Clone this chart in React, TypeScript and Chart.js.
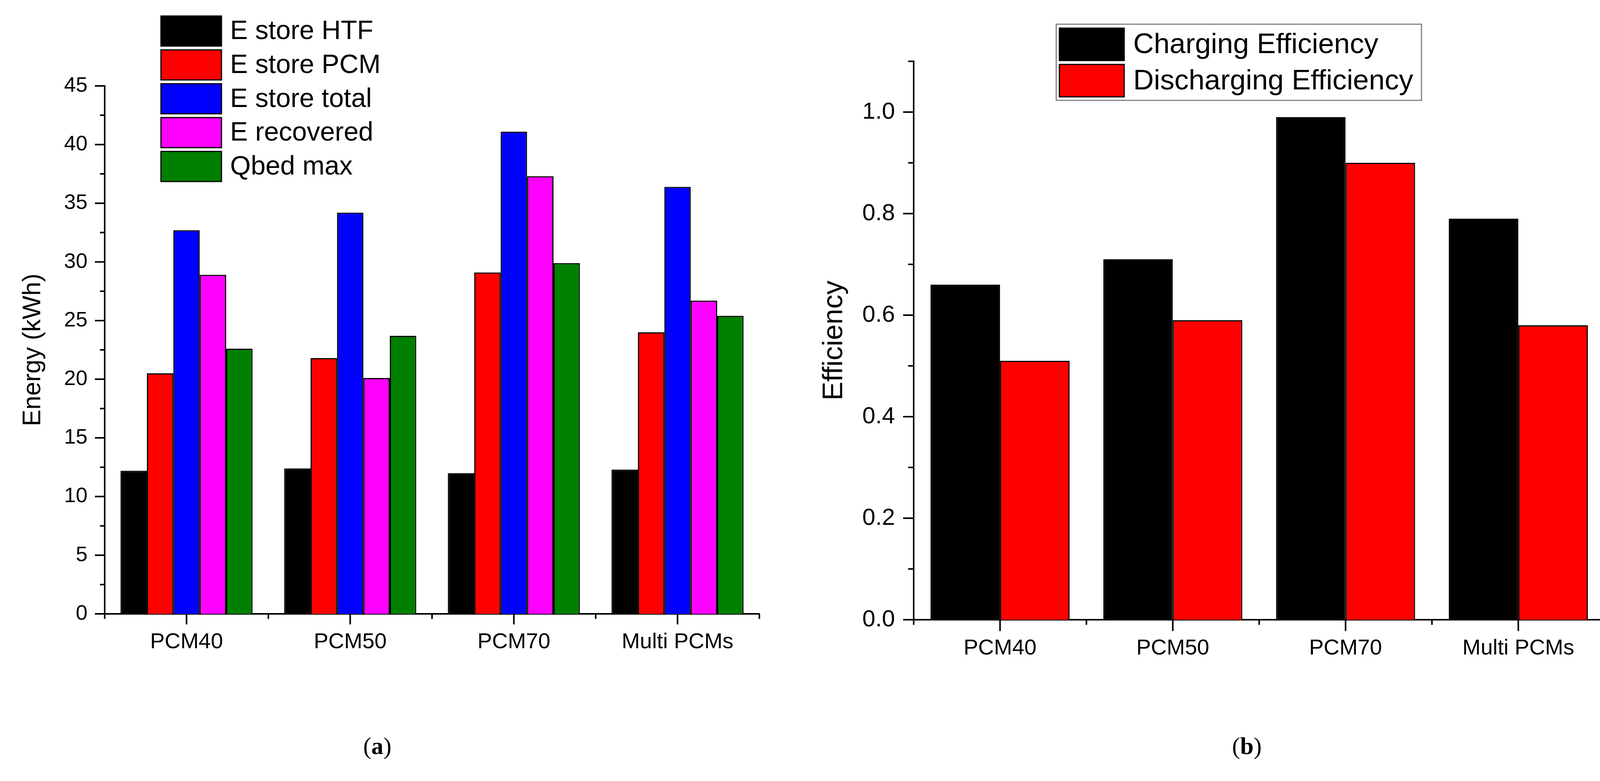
import React, { useEffect, useRef } from "react";
import Chart from "chart.js/auto";

// shared categories
const categories = ["PCM40", "PCM50", "PCM70", "Multi PCMs"];

// (a) energy chart
const energySeries = ["E store HTF", "E store PCM", "E store total", "E recovered", "Qbed max"];
const eStoreHTF = [12.2, 12.4, 12.0, 12.3];
const eStorePCM = [20.5, 21.8, 29.1, 24.0];
const eStoreTotal = [32.7, 34.2, 41.1, 36.4];
const eRecovered = [28.9, 20.1, 37.3, 26.7];
const qBedMax = [22.6, 23.7, 29.9, 25.4];
const energyColors = ["#000000", "#ff0000", "#0000ff", "#ff00ff", "#008000"];
const energyMax = 45;
const energyLabelStep = 5;
const energyMinorStep = 2.5;

// (b) efficiency chart
const effSeries = ["Charging Efficiency", "Discharging Efficiency"];
const chargingEff = [0.66, 0.71, 0.99, 0.79];
const dischargingEff = [0.51, 0.59, 0.9, 0.58];
const effColors = ["#000000", "#ff0000"];
const effMax = 1.1;
const effMinorStep = 0.1;

const FONT = "'Liberation Sans', Arial, Helvetica, sans-serif";

// draws the outward tick marks: long at labelled values / category centres, short in between
const tickMarks = {
  id: "tickMarks",
  afterDraw(chart: any, _args: any, o: any) {
    const { ctx, chartArea } = chart;
    const xs = chart.scales.x;
    const ys = chart.scales.y;
    ctx.save();
    ctx.strokeStyle = "#000";
    ctx.lineWidth = o.width;
    ctx.beginPath();
    ys.ticks.forEach((t: any, i: number) => {
      const py = ys.getPixelForTick(i);
      const r = t.value / o.yMajor;
      const len = Math.abs(r - Math.round(r)) < 1e-6 ? o.yMajorLen : o.yMinorLen;
      ctx.moveTo(chartArea.left - len, py);
      ctx.lineTo(chartArea.left, py);
    });
    const n = xs.ticks.length;
    for (let i = 0; i < n; i++) {
      const px = xs.getPixelForTick(i);
      ctx.moveTo(px, chartArea.bottom);
      ctx.lineTo(px, chartArea.bottom + o.xMajorLen);
    }
    for (let i = 0; i <= n; i++) {
      const px =
        i === 0
          ? chartArea.left
          : i === n
          ? chartArea.right
          : (xs.getPixelForTick(i - 1) + xs.getPixelForTick(i)) / 2;
      ctx.moveTo(px, chartArea.bottom);
      ctx.lineTo(px, chartArea.bottom + o.xMinorLen);
    }
    ctx.stroke();
    ctx.restore();
  },
};

// legend with big swatches at a fixed spot (the origin style legend)
const boxLegend = {
  id: "boxLegend",
  afterDraw(chart: any, _args: any, o: any) {
    const { ctx } = chart;
    ctx.save();
    if (o.frame) {
      ctx.strokeStyle = "#808080";
      ctx.lineWidth = 3;
      ctx.strokeRect(o.frame[0], o.frame[1], o.frame[2], o.frame[3]);
    }
    chart.data.datasets.forEach((ds: any, i: number) => {
      const top = o.y + i * o.pitch;
      ctx.fillStyle = ds.backgroundColor;
      ctx.fillRect(o.x, top, o.w, o.h);
      ctx.strokeStyle = "#000";
      ctx.lineWidth = 3;
      ctx.strokeRect(o.x, top, o.w, o.h);
      ctx.fillStyle = "#000";
      ctx.font = `${o.size}px ${FONT}`;
      ctx.textBaseline = "middle";
      ctx.textAlign = "left";
      ctx.fillText(ds.label, o.x + o.w + o.gap, top + o.h / 2 + 2);
    });
    ctx.restore();
  },
};

const EnergyChart: React.FC = () => {
  const ref = useRef<HTMLCanvasElement | null>(null);

  useEffect(() => {
    if (!ref.current) return;
    const values = [eStoreHTF, eStorePCM, eStoreTotal, eRecovered, qBedMax];
    const chart = new Chart(ref.current, {
      type: "bar",
      data: {
        labels: categories,
        datasets: energySeries.map((label, i) => ({
          label,
          data: values[i],
          backgroundColor: energyColors[i],
          borderColor: "#000",
          borderWidth: 3,
          categoryPercentage: 0.807,
          barPercentage: 1,
        })),
      },
      options: {
        animation: false,
        responsive: false,
        devicePixelRatio: 1,
        layout: { padding: { left: 0, top: 220, right: 56, bottom: 0 } },
        plugins: {
          legend: { display: false },
          tooltip: { enabled: false },
          tickMarks: { width: 4, yMajor: energyLabelStep, yMajorLen: 25, yMinorLen: 12, xMajorLen: 27, xMinorLen: 13 },
          boxLegend: { x: 412, y: 41, w: 155, h: 77, pitch: 86.7, gap: 22, size: 68 },
        } as any,
        scales: {
          x: {
            grid: { display: false, drawTicks: false },
            border: { display: true, color: "#000", width: 4 },
            ticks: { color: "#000", font: { size: 56, family: FONT }, padding: 39, maxRotation: 0, autoSkip: false },
            afterFit: (s: any) => {
              s.height = 228;
            },
          },
          y: {
            min: 0,
            max: energyMax,
            grid: { display: false, drawTicks: false },
            border: { display: true, color: "#000", width: 4 },
            ticks: {
              stepSize: energyMinorStep,
              autoSkip: false,
              color: "#000",
              font: { size: 54, family: FONT },
              padding: 44,
              callback: (v: any) => (Number(v) % energyLabelStep === 0 ? String(v) : ""),
            },
            title: {
              display: true,
              text: "Energy (kWh)",
              color: "#000",
              font: { size: 64, family: FONT },
              padding: { top: 47, bottom: 0 },
            },
            afterFit: (s: any) => {
              s.width = 268;
            },
          },
        },
      },
      plugins: [tickMarks, boxLegend],
    });
    return () => {
      chart.destroy();
    };
  }, []);

  return (
    <canvas
      ref={ref}
      width={2000}
      height={1800}
      style={{ position: "absolute", left: 0, top: 0, width: 2000, height: 1800 }}
    />
  );
};

const EfficiencyChart: React.FC = () => {
  const ref = useRef<HTMLCanvasElement | null>(null);

  useEffect(() => {
    if (!ref.current) return;
    const values = [chargingEff, dischargingEff];
    const chart = new Chart(ref.current, {
      type: "bar",
      data: {
        labels: categories,
        datasets: effSeries.map((label, i) => ({
          label,
          data: values[i],
          backgroundColor: effColors[i],
          borderColor: "#000",
          borderWidth: 3,
          categoryPercentage: 0.805,
          barPercentage: 1,
        })),
      },
      options: {
        animation: false,
        responsive: false,
        devicePixelRatio: 1,
        layout: { padding: { left: 0, top: 157, right: 52, bottom: 0 } },
        plugins: {
          legend: { display: false },
          tooltip: { enabled: false },
          tickMarks: { width: 4, yMajor: 0.2, yMajorLen: 27, yMinorLen: 14, xMajorLen: 29, xMinorLen: 13 },
          boxLegend: {
            x: 712,
            y: 72,
            w: 166,
            h: 83,
            pitch: 93,
            gap: 23,
            size: 73,
            frame: [704, 62, 935, 195],
          },
        } as any,
        scales: {
          x: {
            grid: { display: false, drawTicks: false },
            border: { display: true, color: "#000", width: 4 },
            ticks: { color: "#000", font: { size: 56, family: FONT }, padding: 40, maxRotation: 0, autoSkip: false },
            afterFit: (s: any) => {
              s.height = 213;
            },
          },
          y: {
            min: 0,
            max: effMax,
            grid: { display: false, drawTicks: false },
            border: { display: true, color: "#000", width: 4 },
            ticks: {
              stepSize: effMinorStep,
              autoSkip: false,
              color: "#000",
              font: { size: 60, family: FONT },
              padding: 48,
              callback: (v: any) => (Math.round(Number(v) * 10) % 2 === 0 ? Number(v).toFixed(1) : ""),
            },
            title: {
              display: true,
              text: "Efficiency",
              color: "#000",
              font: { size: 72, family: FONT },
              padding: { top: 93, bottom: 0 },
            },
            afterFit: (s: any) => {
              s.width = 339;
            },
          },
        },
      },
      plugins: [tickMarks, boxLegend],
    });
    return () => {
      chart.destroy();
    };
  }, []);

  return (
    <canvas
      ref={ref}
      width={2160}
      height={1800}
      style={{ position: "absolute", left: 2000, top: 0, width: 2160, height: 1800 }}
    />
  );
};

const captionStyle: React.CSSProperties = {
  position: "absolute",
  top: 1875,
  width: 200,
  marginLeft: -100,
  textAlign: "center",
  fontFamily: "'Liberation Serif', 'Times New Roman', serif",
  fontSize: 62,
  lineHeight: "70px",
  color: "#000",
};

const App: React.FC = () => {
  return (
    <div
      style={{
        position: "absolute",
        left: 0,
        top: 0,
        width: 4160,
        height: 2000,
        background: "#ffffff",
        overflow: "hidden",
      }}
    >
      <EnergyChart />
      <EfficiencyChart />
      <div style={{ ...captionStyle, left: 966 }}>
        (<b>a</b>)
      </div>
      <div style={{ ...captionStyle, left: 3192 }}>
        (<b>b</b>)
      </div>
    </div>
  );
};

export default App;
